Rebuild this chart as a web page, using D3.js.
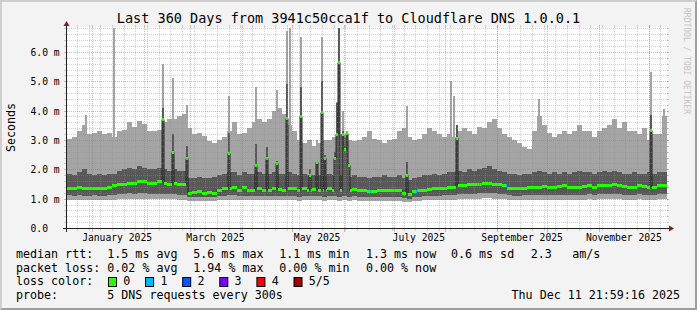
<!DOCTYPE html>
<html><head><meta charset="utf-8">
<script src="https://cdn.jsdelivr.net/npm/d3@7"></script>
<style>
html,body{margin:0;padding:0;background:#f3f3f3;}
svg{display:block;}
text{font-family:"DejaVu Sans Mono",monospace;white-space:pre;}
</style></head><body>
<svg id="c" width="697" height="310"></svg>
<script>
// ---------------- data ----------------
const titleText = "Last 360 Days from 3941c50cca1f to Cloudflare DNS 1.0.0.1";
const endTime = new Date(2025, 11, 11, 21, 59, 16);
const spanDays = 360;
const binDays = 3;   // each value below covers 3 days
const yTicksMajor = [0, 1, 2, 3, 4, 5, 6];
const yLabels = ["0.0", "1.0 m", "2.0 m", "3.0 m", "4.0 m", "5.0 m", "6.0 m"];

// highest ping (top of light smoke), ms
const p5 = [3.05,3.1,3.3,3.5,3.2,3.25,3.3,3.2,3.25,3.1,
 3.3,3.35,3.6,3.45,3.65,3.55,3.3,3.3,3.35,3.6,
 3.7,3.7,3.8,3.9,3.4,3.2,3.25,3.15,2.95,2.9,
 3.0,3.1,3.3,3.6,3.2,3.25,3.4,3.6,3.7,3.6,
 3.7,4.0,4.1,3.9,3.5,3.3,3.0,2.9,3.0,2.8,
 2.9,3.0,3.0,3.1,3.2,3.1,3.0,2.95,3.0,3.1,
 3.3,3.05,3.0,2.9,3.0,3.05,3.3,3.4,3.1,3.0,
 3.05,3.2,3.4,3.3,3.2,3.1,3.2,3.1,3.3,3.4,
 3.3,3.2,3.45,3.4,3.6,3.7,3.4,3.2,3.1,3.0,
 2.9,2.75,2.7,3.3,3.8,3.5,3.25,3.1,3.2,3.3,
 3.2,3.3,3.5,3.3,3.3,3.1,3.3,3.4,3.5,3.7,
 3.4,3.6,3.3,3.3,3.2,3.4,3.0,3.2,3.2,3.8];
// 4th ping (top of dark smoke)
const p4 = [1.85,1.8,1.9,2.0,1.85,1.8,1.85,1.8,1.85,1.85,
 1.95,2.0,2.05,2.0,2.1,2.05,2.0,2.0,2.05,2.0,
 1.95,2.0,1.95,1.95,1.7,1.7,1.75,1.7,1.7,1.75,
 1.8,1.85,1.9,1.9,1.8,1.9,1.85,1.85,1.9,1.85,
 1.85,1.9,1.85,1.85,1.9,1.85,1.8,1.85,1.8,1.8,
 1.8,1.8,1.85,1.8,1.8,1.85,1.75,1.8,1.75,1.75,
 1.7,1.75,1.75,1.8,1.75,1.75,1.8,1.7,1.65,1.7,
 1.75,1.8,1.8,1.85,1.8,1.85,1.9,1.9,1.95,1.9,
 2.0,1.95,2.0,2.05,2.1,2.0,1.95,1.9,1.85,1.85,
 1.8,1.85,1.85,1.9,1.95,1.9,1.85,1.9,1.85,1.9,
 1.85,1.9,1.95,1.9,1.9,1.85,1.9,1.95,1.9,1.95,
 1.9,1.85,1.85,1.9,1.85,1.85,1.9,1.85,1.9,1.9];
// median rtt
const med = [1.38,1.35,1.4,1.35,1.35,1.38,1.35,1.38,1.4,1.45,
 1.5,1.5,1.55,1.55,1.6,1.6,1.55,1.55,1.6,1.55,
 1.5,1.55,1.5,1.5,1.2,1.22,1.25,1.2,1.22,1.2,
 1.3,1.35,1.38,1.4,1.3,1.4,1.3,1.3,1.35,1.3,
 1.3,1.35,1.32,1.3,1.35,1.35,1.3,1.35,1.3,1.32,
 1.3,1.3,1.35,1.3,1.3,1.35,1.3,1.32,1.3,1.28,
 1.25,1.25,1.28,1.3,1.3,1.28,1.3,1.2,1.15,1.25,
 1.3,1.3,1.32,1.35,1.35,1.38,1.4,1.4,1.45,1.45,
 1.5,1.5,1.5,1.55,1.55,1.5,1.5,1.45,1.38,1.35,
 1.35,1.38,1.4,1.4,1.4,1.42,1.4,1.4,1.42,1.45,
 1.4,1.4,1.4,1.42,1.45,1.4,1.45,1.45,1.45,1.5,
 1.45,1.42,1.4,1.4,1.45,1.42,1.4,1.4,1.45,1.45];
// 2nd ping (bottom of dark smoke)
const p2 = [1.12,1.1,1.12,1.1,1.1,1.12,1.1,1.1,1.12,1.12,
 1.15,1.15,1.18,1.17,1.18,1.18,1.15,1.15,1.17,1.15,
 1.15,1.15,1.12,1.12,1.05,1.05,1.07,1.05,1.05,1.07,
 1.1,1.1,1.12,1.12,1.08,1.1,1.08,1.08,1.1,1.08,
 1.08,1.1,1.08,1.08,1.1,1.1,1.05,1.1,1.08,1.08,
 1.08,1.07,1.1,1.08,1.07,1.08,1.07,1.08,1.07,1.05,
 1.05,1.05,1.05,1.07,1.07,1.05,1.07,1.02,1.0,1.05,
 1.07,1.08,1.1,1.1,1.1,1.12,1.12,1.12,1.15,1.15,
 1.17,1.17,1.18,1.2,1.2,1.18,1.17,1.15,1.12,1.1,
 1.1,1.12,1.12,1.12,1.13,1.12,1.12,1.13,1.12,1.13,
 1.12,1.12,1.13,1.13,1.15,1.12,1.15,1.15,1.15,1.17,
 1.15,1.13,1.12,1.12,1.15,1.13,1.12,1.12,1.15,1.15];
// lowest ping (bottom of light smoke)
const p1 = [0.97,0.95,0.97,0.96,0.95,0.96,0.95,0.95,0.96,0.97,
 0.98,0.98,1.0,0.99,1.0,1.0,0.98,0.98,0.99,0.98,
 0.98,0.98,0.97,0.97,0.92,0.92,0.93,0.92,0.92,0.93,
 0.95,0.95,0.96,0.96,0.94,0.95,0.94,0.94,0.95,0.94,
 0.94,0.95,0.94,0.94,0.95,0.95,0.93,0.95,0.94,0.94,
 0.94,0.93,0.95,0.94,0.93,0.94,0.93,0.94,0.93,0.92,
 0.92,0.92,0.92,0.93,0.93,0.92,0.93,0.9,0.88,0.92,
 0.93,0.94,0.95,0.95,0.95,0.96,0.96,0.96,0.98,0.98,
 1.0,1.0,1.0,1.02,1.02,1.0,1.0,0.98,0.96,0.95,
 0.95,0.96,0.96,0.96,0.97,0.96,0.96,0.97,0.96,0.97,
 0.96,0.96,0.97,0.97,0.98,0.96,0.98,0.98,0.98,1.0,
 0.98,0.97,0.96,0.96,0.98,0.97,0.96,0.96,0.98,0.98];

// short spikes (day offset from start of graph); null = keep surrounding value
const spikeDay  = [10.8, 27.6, 57.0, 63.0, 71.4, 96.6, 112.8, 119.4, 125.4, 131.4, 133.2, 139.8, 145.2, 149.4, 152.4, 154.2, 160.2, 161.4, 162.6, 165.0, 166.2, 167.4, 168.6, 203.4, 229.8, 231.6, 233.4, 282.6, 349.8, 357.6];
const spikeHi   = [3.85, 6.8, 5.6, 5.1, 4.2, 4.5, 4.8, 3.45, 4.7, 6.7, 6.8, 6.5, 2.9, 3.0, 6.5, null, null, 4.3, 6.8, 4.0, null, 3.3, null, 4.15, 5.0, 4.5, 3.5, 4.4, 5.3, 4.05];
const spikeDark = [null, null, 4.1, 3.2, 2.8, 3.25, 2.85, 2.75, 2.3, 4.9, null, 4.8, 2.0, 2.25, 5.0, 2.5, 2.6, 4.25, 6.8, 3.3, 2.8, 3.25, 2.2, 2.25, null, null, 3.5, null, 3.85, null];
const spikeMed  = [null, null, 3.7, 2.6, 2.4, 2.55, 2.15, 2.4, 2.2, 3.75, null, 3.8, 1.8, 2.25, 3.95, 2.4, 2.4, 3.2, 5.65, 3.2, 2.7, 3.25, 2.15, 1.8, null, null, 3.07, null, 3.35, null];

// periods with packet loss (day offset, loss level)
const lossDay   = [109.2, 138.0, 181.8, 209.4, 210.0, 246.0, 247.2, 248.4, 263.4];
const lossLevel = [1, 1, 1, 1, 1, 1, 1, 1, 1];

const lossColors = ["#26ff00", "#00b8ff", "#0059ff", "#7e00ff", "#ff0000", "#a00000"];
const lossNames  = ["0", "1", "2", "3", "4", "5/5"];

const legendRtt  = ["median rtt:", "1.5 ms avg", "5.6 ms max", "1.1 ms min", "1.3 ms now", "0.6 ms sd", "2.3", "am/s"];
const legendLoss = ["packet loss:", "0.02 % avg", "1.94 % max", "0.00 % min", "0.00 % now"];
const probeText  = "5 DNS requests every 300s";
const dateText   = "Thu Dec 11 21:59:16 2025";

// ---------------- drawing ----------------
const W = 697, H = 310;
const X0 = 67, X1 = 667, Y0 = 228, Y1 = 27;
const startTime = new Date(+endTime - spanDays * 864e5);
const x = d3.scaleTime().domain([startTime, endTime]).range([X0, X1]);
const y = d3.scaleLinear().domain([0, 6.85]).range([Y0, Y1]);
const ry = v => Math.round(y(v));

const svg = d3.select("#c");
svg.append("rect").attr("width", W).attr("height", H).attr("fill", "#f3f3f3");
svg.append("polygon").attr("points", `0,${H} 2,${H-2} 2,2 ${W-2},2 ${W},0 0,0`).attr("fill", "#cfcfcf");
svg.append("polygon").attr("points", `2,${H-2} ${W-2},${H-2} ${W-2},2 ${W},0 ${W},${H} 0,${H}`).attr("fill", "#9e9e9e");
svg.append("rect").attr("x", X0).attr("y", Y1).attr("width", X1 - X0).attr("height", Y0 - Y1).attr("fill", "#ffffff");

// per-pixel-column table built from the arrays
const colDays = spanDays / (X1 - X0);
const cols = d3.range(X1 - X0).map(c => {
  const d0 = c * colDays;
  const b = Math.min(p5.length - 1, Math.floor(d0 / binDays));
  const r = {t0: new Date(+startTime + d0 * 864e5), t1: new Date(+startTime + (d0 + colDays) * 864e5),
    p1: p1[b], p2: p2[b], med: med[b], p4: p4[b], p5: p5[b], loss: 0};
  spikeDay.forEach((sd, k) => {
    const sc = Math.round(sd / colDays);
    if (c === sc || c === sc + 1) {
      if (spikeHi[k] != null) r.p5 = Math.max(r.p5, spikeHi[k]);
      if (spikeDark[k] != null) r.p4 = spikeDark[k];
      if (spikeMed[k] != null) r.med = spikeMed[k];
    }
  });
  lossDay.forEach((ld, k) => { if (Math.round(ld / colDays) === c) r.loss = lossLevel[k]; });
  return r;
});

const g = svg.append("g");
g.selectAll("rect.l").data(cols).join("rect").attr("class", "l")
  .attr("x", d => x(d.t0)).attr("width", d => x(d.t1) - x(d.t0))
  .attr("y", d => ry(d.p5)).attr("height", d => ry(d.p1) - ry(d.p5))
  .attr("fill", "#a4a4a4").attr("shape-rendering", "crispEdges");
g.selectAll("rect.d").data(cols).join("rect").attr("class", "d")
  .attr("x", d => x(d.t0)).attr("width", d => x(d.t1) - x(d.t0))
  .attr("y", d => ry(d.p4)).attr("height", d => ry(d.p2) - ry(d.p4))
  .attr("fill", "#585858").attr("shape-rendering", "crispEdges");

// median line
const mline = d3.line().x(d => d[0]).y(d => d[1]).curve(d3.curveStepAfter);
const mpts = cols.map(d => [x(d.t0), ry(d.med) + 0.5]);
mpts.push([X1, ry(cols[cols.length - 1].med) + 0.5]);
g.append("path").attr("d", mline(mpts)).attr("fill", "none").attr("stroke", "#202020").attr("stroke-width", 1);
// median boxes coloured by loss
g.selectAll("rect.m").data(cols).join("rect").attr("class", "m")
  .attr("x", d => x(d.t0)).attr("width", d => x(d.t1) - x(d.t0))
  .attr("y", d => ry(d.med) - 1).attr("height", 3)
  .attr("fill", d => lossColors[d.loss]).attr("shape-rendering", "crispEdges");

// grid (on top)
const gridC = "rgba(143,143,143,0.4)", mgridC = "rgba(222,79,79,0.46)";
const grid = svg.append("g").attr("shape-rendering", "crispEdges");
const yMinor = d3.range(1, 35).map(i => i * 0.2).filter(v => Math.abs(v - Math.round(v)) > 1e-6 && y(v) >= Y1);
yMinor.forEach(v => {
  const yy = ry(v) + 0.5;
  grid.append("line").attr("x1", X0).attr("x2", X1 + 1).attr("y1", yy).attr("y2", yy).attr("stroke", gridC).attr("stroke-dasharray", "1,1");
  grid.append("line").attr("x1", X0 - 3).attr("x2", X0 - 1).attr("y1", yy).attr("y2", yy).attr("stroke", gridC);
  grid.append("line").attr("x1", X1).attr("x2", X1 + 2).attr("y1", yy).attr("y2", yy).attr("stroke", gridC);
});
yTicksMajor.filter(v => v > 0).forEach(v => {
  const yy = ry(v) + 0.5;
  grid.append("line").attr("x1", X0).attr("x2", X1 + 1).attr("y1", yy).attr("y2", yy).attr("stroke", mgridC).attr("stroke-dasharray", "1,1");
  grid.append("line").attr("x1", X0 - 3).attr("x2", X0 - 1).attr("y1", yy).attr("y2", yy).attr("stroke", mgridC);
  grid.append("line").attr("x1", X1).attr("x2", X1 + 2).attr("y1", yy).attr("y2", yy).attr("stroke", mgridC);
});
const weeks = d3.timeMonday.range(startTime, endTime);
const months = d3.timeMonth.range(startTime, endTime);
weeks.forEach(t => {
  const xx = Math.round(x(t)) + 0.5;
  grid.append("line").attr("x1", xx).attr("x2", xx).attr("y1", Y1).attr("y2", Y0).attr("stroke", gridC).attr("stroke-dasharray", "1,1");
  grid.append("line").attr("x1", xx).attr("x2", xx).attr("y1", Y1 - 2).attr("y2", Y1).attr("stroke", gridC);
  grid.append("line").attr("x1", xx).attr("x2", xx).attr("y1", Y0 + 1).attr("y2", Y0 + 3).attr("stroke", gridC);
});
months.forEach(t => {
  const xx = Math.round(x(t)) + 0.5;
  grid.append("line").attr("x1", xx).attr("x2", xx).attr("y1", Y1).attr("y2", Y0).attr("stroke", mgridC).attr("stroke-dasharray", "1,1");
  grid.append("line").attr("x1", xx).attr("x2", xx).attr("y1", Y1 - 2).attr("y2", Y1).attr("stroke", mgridC);
  grid.append("line").attr("x1", xx).attr("x2", xx).attr("y1", Y0 + 1).attr("y2", Y0 + 4).attr("stroke", mgridC);
});

// axes
const ax = svg.append("g").attr("shape-rendering", "crispEdges");
ax.append("line").attr("x1", X0 - 4).attr("x2", X1 + 4).attr("y1", Y0 + 0.5).attr("y2", Y0 + 0.5).attr("stroke", "#1f1f1f");
ax.append("line").attr("x1", X0 - 0.5).attr("x2", X0 - 0.5).attr("y1", Y0 + 4).attr("y2", Y1 - 4).attr("stroke", "#1f1f1f");
svg.append("polygon").attr("points", `${X1+2},${Y0-2.5} ${X1+2},${Y0+3.5} ${X1+7},${Y0+0.5}`).attr("fill", "#801f1f");
svg.append("polygon").attr("points", `${X0-3.5},${Y1-1} ${X0+2.5},${Y1-1} ${X0-0.5},${Y1-6}`).attr("fill", "#801f1f");

// y labels
svg.selectAll("text.yl").data(yTicksMajor).join("text").attr("class", "yl")
  .attr("x", 30.5).attr("y", v => ry(v) + 4).attr("font-size", "9.7px").attr("fill", "#000")
  .text((v, i) => yLabels[i]);
// x labels (centered half a month after the month start)
const labMonths = d3.timeMonth.every(2).range(startTime, endTime).filter(t => t.getMonth() % 2 === 0);
svg.selectAll("text.xl").data(labMonths).join("text").attr("class", "xl")
  .attr("x", t => x(d3.timeDay.offset(t, 15))).attr("y", 241).attr("text-anchor", "middle")
  .attr("font-size", "9.7px").attr("fill", "#000").text(d3.timeFormat("%B %Y"));

// title, axis title, watermark
svg.append("text").attr("x", W / 2).attr("y", 23).attr("text-anchor", "middle").attr("font-size", "13.5px").attr("fill", "#000").text(titleText);
svg.append("text").attr("transform", "translate(14.5,127.5) rotate(-90)").attr("text-anchor", "middle").attr("font-size", "11.66px").attr("fill", "#000").text("Seconds");
svg.append("text").attr("transform", "translate(683.5,8) rotate(90)").attr("font-size", "8px").attr("fill", "#c4c4c4").text("RRDTOOL / TOBI OETIKER");

// legend
const lx = [16, 107.3, 193.3, 279.3, 366, 451, 530.7, 572.3];
const lfs = "11.66px";
legendRtt.forEach((s, i) => svg.append("text").attr("x", lx[i]).attr("y", 258).attr("font-size", lfs).text(s));
legendLoss.forEach((s, i) => svg.append("text").attr("x", lx[i]).attr("y", 271.7).attr("font-size", lfs).text(s));
svg.append("text").attr("x", 16).attr("y", 285.4).attr("font-size", lfs).text("loss color:");
lossNames.forEach((s, i) => {
  const bx = 108.5 + i * 37.1;
  svg.append("rect").attr("x", bx).attr("y", 277.5).attr("width", 8).attr("height", 9)
    .attr("fill", lossColors[i]).attr("stroke", "#000").attr("stroke-width", 1);
  svg.append("text").attr("x", bx + 14.8).attr("y", 285.4).attr("font-size", lfs).text(s);
});
svg.append("text").attr("x", 16).attr("y", 299).attr("font-size", lfs).text("probe:");
svg.append("text").attr("x", 107.3).attr("y", 299).attr("font-size", lfs).text(probeText);
svg.append("text").attr("x", 680).attr("y", 299).attr("text-anchor", "end").attr("font-size", lfs).text(dateText);
</script>
</body></html>
